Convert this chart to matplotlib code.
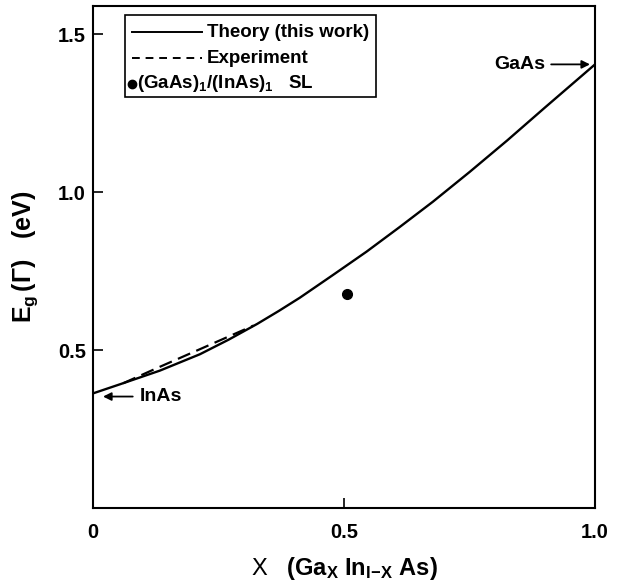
import numpy as np
import matplotlib
matplotlib.use("Agg")
import matplotlib.pyplot as plt
from matplotlib.patches import Rectangle

plt.rcParams['font.family'] = ['Liberation Sans', 'DejaVu Sans']
plt.rcParams['mathtext.fontset'] = 'custom'
plt.rcParams['mathtext.rm'] = 'Liberation Sans'
plt.rcParams['mathtext.bf'] = 'Liberation Sans:bold'
plt.rcParams['mathtext.it'] = 'Liberation Sans:italic'

# theory curve
x_theory = [0.0, 0.054, 0.133, 0.213, 0.27, 0.327, 0.37, 0.412, 0.478, 0.545, 0.611,
            0.677, 0.75, 0.825, 0.9, 1.0]
e_theory = [0.363, 0.392, 0.435, 0.487, 0.533, 0.583, 0.624, 0.666, 0.738, 0.812, 0.890,
            0.970, 1.064, 1.164, 1.268, 1.405]

# experiment (dashed)
x_exp = [0.06, 0.13, 0.213, 0.32]
e_exp = [0.395, 0.445, 0.503, 0.578]

# superlattice point
x_sl = [0.505]
e_sl = [0.678]

fig = plt.figure(figsize=(6.18, 5.86), dpi=100)
ax = fig.add_axes([0.1505, 0.1331, 0.8123, 0.8567])

ax.plot(x_theory, e_theory, color='black', lw=1.7, solid_joinstyle='round')
ax.plot(x_exp, e_exp, color='black', lw=1.6, ls=(0, (6, 3)))
ax.plot(x_sl, e_sl, 'o', color='black', ms=7)

ax.set_xlim(0, 1.0)
ax.set_ylim(0, 1.59)
ax.set_xticks([0, 0.5, 1.0])
ax.set_xticklabels(['0', '0.5', '1.0'])
ax.set_yticks([0.5, 1.0, 1.5])
ax.set_yticklabels(['0.5', '1.0', '1.5'])
ax.tick_params(direction='in', length=7, width=1.2, labelsize=14.5)
ax.tick_params(axis='x', pad=11)
ax.tick_params(axis='y', pad=5)
for lab in ax.get_xticklabels() + ax.get_yticklabels():
    lab.set_fontweight('bold')
for s in ax.spines.values():
    s.set_linewidth(1.5)

ax.set_xlabel(r"$\mathrm{X}$   $\mathbf{(Ga_X\ In_{I\!-\!X}\ As)}$", fontsize=17, labelpad=9)
ax.set_ylabel(r"$\mathbf{E_g\,(\Gamma)}$   $\mathbf{(eV)}$", fontsize=18, labelpad=13)

# end point labels
ax.annotate('GaAs', xy=(0.99, e_theory[-1]), xytext=(0.80, e_theory[-1]),
            fontsize=14, fontweight='bold', va='center',
            arrowprops=dict(arrowstyle='-|>', color='black', lw=1.3, mutation_scale=12,
                            shrinkA=2, shrinkB=0))
ax.annotate('InAs', xy=(0.02, e_theory[0] - 0.01), xytext=(0.093, e_theory[0] - 0.01),
            fontsize=14, fontweight='bold', va='center',
            arrowprops=dict(arrowstyle='-|>', color='black', lw=1.3, mutation_scale=12,
                            shrinkA=3, shrinkB=0))

# legend box
ax.add_patch(Rectangle((0.064, 0.819), 0.500, 0.163, transform=ax.transAxes,
                       fill=False, lw=1.2, ec='black'))
ax.plot([0.078, 0.217], [0.948, 0.948], transform=ax.transAxes, color='black', lw=1.4)
ax.plot([0.078, 0.217], [0.896, 0.896], transform=ax.transAxes, color='black', lw=1.4,
        ls=(0, (4, 3)))
ax.plot([0.078], [0.845], 'o', transform=ax.transAxes, color='black', ms=6)
ax.text(0.227, 0.948, 'Theory (this work)', transform=ax.transAxes, fontsize=13.5,
        fontweight='bold', va='center')
ax.text(0.227, 0.896, 'Experiment', transform=ax.transAxes, fontsize=13.5,
        fontweight='bold', va='center')
ax.text(0.088, 0.845, r"$\mathbf{(GaAs)_1/(InAs)_1}$   SL", transform=ax.transAxes,
        fontsize=13.5, fontweight='bold', va='center')

fig.savefig('out.png', dpi=100)
